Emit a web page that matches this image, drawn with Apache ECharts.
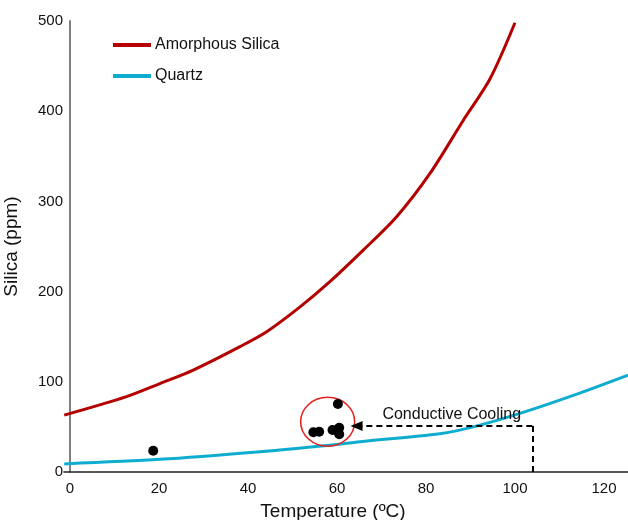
<!DOCTYPE html>
<html>
<head>
<meta charset="utf-8">
<script src="https://cdn.jsdelivr.net/npm/echarts@6/dist/echarts.min.js"></script>
<style>
  html, body { margin: 0; padding: 0; background: #fff; }
  #main { width: 628px; height: 520px; }
</style>
</head>
<body>
<div id="main"></div>
<script>
// solubility curves
var amorphousTemp = [-1.3, 12.7, 20.2, 27.7, 38.2, 44.2, 51.7, 58.4, 65.9, 73.4, 80.9, 88.4, 94.4, 100];
var amorphousSilica = [63, 83.5, 98, 113, 139, 155.5, 183, 211, 246, 283, 331, 390, 436, 498];

var quartzTemp = [-1.3, 20.2, 42.7, 57.7, 65.2, 83.1, 90.6, 101.1, 113.1, 125.4];
var quartzSilica = [9, 14, 22.5, 29.5, 33.6, 42.5, 50, 65, 85, 107.5];

// samples
var sampleTemp = [18.7, 54.7, 56.0, 60.2, 59.0, 60.5, 60.5];
var sampleSilica = [23.6, 44.0, 44.7, 75.4, 46.6, 49.1, 41.8];

var xTicks = [0, 20, 40, 60, 80, 100, 120];

// annotation anchors (data coords)
var circleCenter = [57.9, 55.7];
var coolingStart = [103.9, 0];
var coolingCorner = [103.9, 51];
var coolingEnd = [64.4, 51];
var coolingText = [85.8, 64];

function zip(xs, ys) {
  return xs.map(function (x, i) { return [x, ys[i]]; });
}

var myChart = echarts.init(document.getElementById('main'));
var font = 'Liberation Sans, Arial, sans-serif';

var option = {
  animation: false,
  backgroundColor: '#fff',
  grid: { left: 64, right: 0, top: 21, bottom: 48, containLabel: false, outerBoundsMode: 'none' },
  legend: {
    data: ['Amorphous Silica', 'Quartz'],
    orient: 'vertical',
    left: 113,
    top: 37,
    padding: 0,
    icon: 'rect',
    itemWidth: 38,
    itemHeight: 4,
    itemGap: 15,
    textStyle: { fontFamily: font, fontSize: 16, color: '#111', lineHeight: 16, padding: [0, 0, 0, -1] }
  },
  xAxis: {
    type: 'value',
    min: -1.35,
    max: 125.4,
    name: 'Temperature (ºC)',
    nameLocation: 'middle',
    nameGap: 30,
    nameTextStyle: { fontFamily: font, fontSize: 19, color: '#111', padding: [0, 26, 0, 0] },
    splitLine: { show: false },
    axisTick: { show: false },
    axisLine: { lineStyle: { color: '#222', width: 1.5 } },
    axisLabel: {
      customValues: xTicks,
      margin: 9,
      fontFamily: font,
      fontSize: 15,
      color: '#111'
    }
  },
  yAxis: {
    type: 'value',
    min: 0,
    max: 500,
    interval: 100,
    name: 'Silica (ppm)',
    nameLocation: 'middle',
    nameGap: 43,
    nameTextStyle: { fontFamily: font, fontSize: 19, color: '#111' },
    splitLine: { show: false },
    axisTick: { show: false },
    axisLine: { show: true, lineStyle: { color: '#808080', width: 2 } },
    axisLabel: { margin: 1, fontFamily: font, fontSize: 15, color: '#111' }
  },
  series: [
    {
      name: 'Amorphous Silica',
      type: 'line',
      data: zip(amorphousTemp, amorphousSilica),
      smooth: 0.3,
      showSymbol: false,
      itemStyle: { color: '#b40000' },
      lineStyle: { color: '#b40000', width: 3 },
      z: 3
    },
    {
      name: 'Quartz',
      type: 'line',
      data: zip(quartzTemp, quartzSilica),
      smooth: 0.3,
      showSymbol: false,
      itemStyle: { color: '#0eadd0' },
      lineStyle: { color: '#0eadd0', width: 3 },
      z: 3
    },
    {
      name: 'samples',
      type: 'scatter',
      data: zip(sampleTemp, sampleSilica),
      symbolSize: 10,
      itemStyle: { color: '#000', opacity: 1 },
      z: 5
    },
    {
      name: 'cluster',
      type: 'scatter',
      data: [circleCenter],
      symbol: 'circle',
      symbolSize: [54, 49],
      itemStyle: { color: 'rgba(0,0,0,0)', borderColor: '#e42320', borderWidth: 1.5, opacity: 1 },
      silent: true,
      z: 4
    },
    {
      name: 'cooling',
      type: 'line',
      data: [],
      markLine: {
        silent: true,
        animation: false,
        label: { show: false },
        lineStyle: { color: '#000', type: [6, 4], width: 2 },
        data: [
          [
            { coord: coolingStart, symbol: 'none' },
            { coord: coolingCorner, symbol: 'none' }
          ],
          [
            { coord: coolingCorner, symbol: 'none' },
            { coord: coolingEnd, symbol: 'triangle', symbolSize: [10, 12] }
          ]
        ]
      },
      markPoint: {
        silent: true,
        symbol: 'circle',
        symbolSize: 0,
        data: [{ coord: coolingText }],
        label: {
          show: true,
          position: 'inside',
          formatter: 'Conductive Cooling',
          fontFamily: font,
          fontSize: 16,
          color: '#111'
        }
      }
    }
  ]
};

myChart.setOption(option);
</script>
</body>
</html>
